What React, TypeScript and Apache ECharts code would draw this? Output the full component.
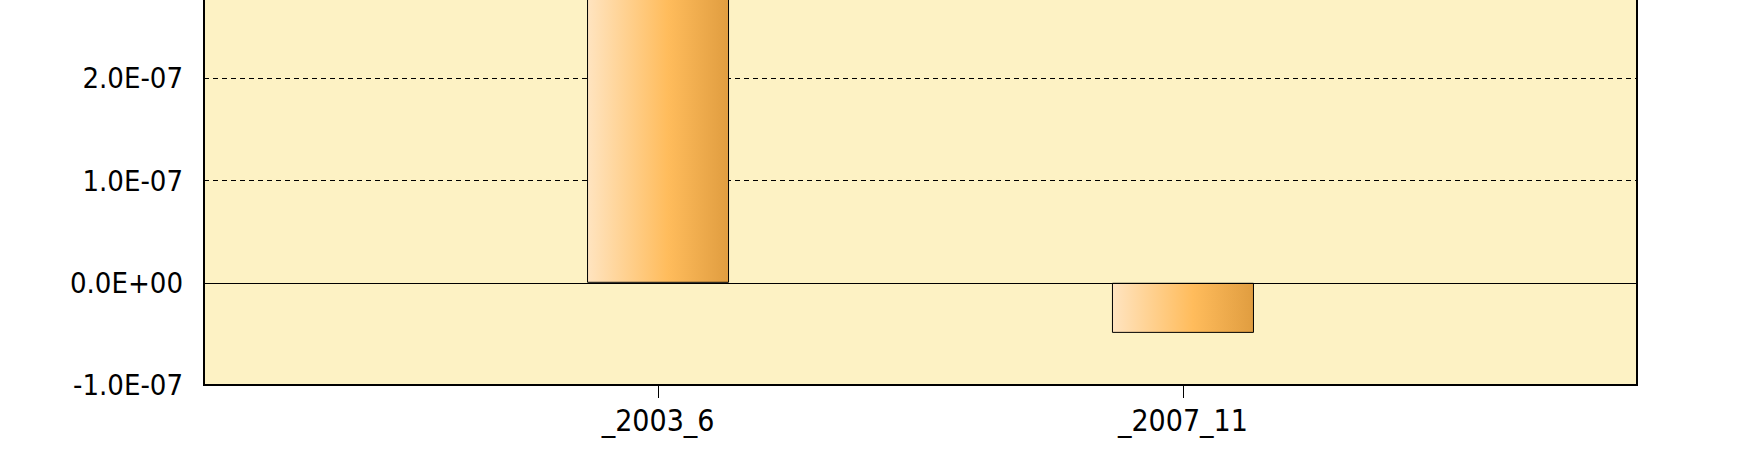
import React, { useEffect, useRef } from "react";
import * as echarts from "echarts";

const categories = ["_2003_6", "_2007_11"];
const values = [3.3e-7, -4.9e-8];
const yTicks = { min: -1e-7, max: 4e-7, interval: 1e-7 };

function fmtExp(v: number): string {
  const s = v.toExponential(1);
  const [m, e] = s.split("e");
  const sign = e[0] === "-" ? "-" : "+";
  const digits = e.replace(/^[+-]/, "").padStart(2, "0");
  return `${m}E${sign}${digits}`;
}

const SHIFT = 200;

export default function App() {
  const ref = useRef<HTMLDivElement>(null);
  useEffect(() => {
    if (!ref.current) return;
    const chart = echarts.init(ref.current, null, { renderer: "svg" });
    const font = "'DejaVu Sans Condensed', 'DejaVu Sans', sans-serif";
    chart.setOption({
      animation: false,
      grid: {
        left: 204,
        right: 100,
        top: SHIFT - 126,
        bottom: 76,
        show: true,
        backgroundColor: "#FDF2C4",
        borderColor: "#000",
        borderWidth: 2,
      },
      xAxis: {
        type: "value",
        min: -0.865,
        max: 1.865,
        splitLine: { show: false },
        axisLine: { show: false, onZero: false },
        axisTick: {
          show: true,
          length: 13,
          customValues: [0, 1],
          lineStyle: { color: "#000", width: 1 },
        },
        axisLabel: {
          customValues: [0, 1],
          margin: 20,
          color: "#000",
          fontSize: 30,
          fontFamily: font,
          formatter: (v: number) => categories[Math.round(v)] ?? "",
        },
      },
      yAxis: {
        type: "value",
        min: yTicks.min,
        max: yTicks.max,
        interval: yTicks.interval,
        axisLine: { show: false },
        axisTick: { show: true, length: 13, lineStyle: { color: "#000", width: 1 } },
        axisLabel: {
          margin: 21,
          color: "#000",
          fontSize: 29,
          fontFamily: font,
          formatter: (v: number) => (v > 2.5e-7 ? "" : fmtExp(v)),
        },
        splitLine: {
          show: true,
          lineStyle: { color: "#000", width: 1, type: [5, 4] },
        },
      },
      series: [
        {
          type: "bar",
          barWidth: 142,
          data: values.map((v, i) => [i, v]),
          itemStyle: {
            color: new echarts.graphic.LinearGradient(0, 0, 1, 0, [
              { offset: 0, color: "#FFE4C0" },
              { offset: 0.57, color: "#FFBC5C" },
              { offset: 1, color: "#E09D40" },
            ]),
            borderColor: "#000",
            borderWidth: 1,
          },
          markLine: {
            silent: true,
            symbol: ["none", "none"],
            label: { show: false },
            lineStyle: { color: "#000", type: "solid", width: 1 },
            data: [{ yAxis: 0 }],
          },
        },
      ],
    });
    return () => chart.dispose();
  }, []);
  return (
    <div
      ref={ref}
      style={{
        position: "fixed",
        left: 0,
        top: -SHIFT,
        width: 1737,
        height: 461 + SHIFT,
        background: "#fff",
      }}
    />
  );
}
